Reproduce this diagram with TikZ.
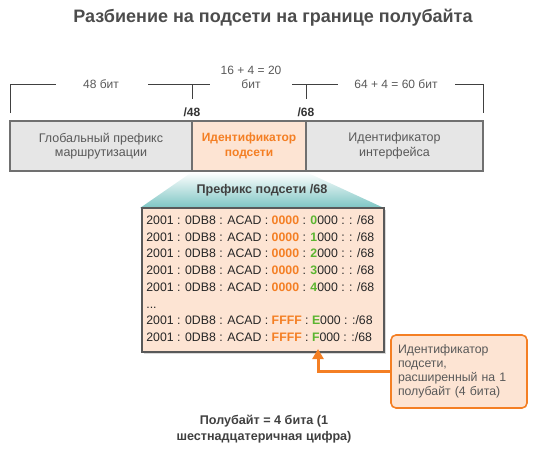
\documentclass[tikz,border=0pt]{standalone}
\usepackage{fontspec}
\setmainfont{Liberation Sans}
\usepackage{xcolor}
\usetikzlibrary{positioning, arrows.meta, shadows}

\definecolor{txtgray}{HTML}{595959}
\definecolor{boxgray}{HTML}{E6E6E6}
\definecolor{linegray}{HTML}{707070}
\definecolor{peach}{HTML}{FDE4D3}
\definecolor{orng}{HTML}{F47F24}
\definecolor{grn}{HTML}{5BB530}
\definecolor{teal}{HTML}{7CC5C3}

\newcommand{\og}[1]{\textcolor{orng}{\bfseries #1}}
\newcommand{\gn}[1]{\textcolor{grn}{\bfseries #1}}

\begin{document}
\begin{tikzpicture}[x=1pt, y=-1pt, thick,
    lbl/.style={text=txtgray, font=\fontsize{12}{14}\selectfont, align=center},
    part/.style={draw=linegray, line width=1.6pt, fill=boxgray, minimum height=50pt,
                 text=txtgray, font=\fontsize{12.5}{14.5}\selectfont, align=center, inner sep=0pt},
    row/.style={anchor=base west, inner sep=0pt, text=black!85, font=\fontsize{12.3}{14}\selectfont},
    brk/.style={draw=black!75, line width=0.8pt}]
       \useasboundingbox (0,0) rectangle (547,453);

       % title
       \node[text=black!70, font=\bfseries\fontsize{18}{21}\selectfont] (title) at (273,18)
            {Разбиение на подсети на границе полубайта};

       % bracket above the address
       \draw[brk] (10,113) -- (10,84) -- (56,84);
       \draw[brk] (148,84) -- (210,84);
       \draw[brk] (192,84) -- (192,99);
       \draw[brk] (292,84) -- (338,84);
       \draw[brk] (306,84) -- (306,99);
       \draw[brk] (455,84) -- (483,84) -- (483,113);
       \node[lbl] (b48) at (101,84) {48 бит};
       \node[lbl] (b20) at (251,77) {16 + 4 = 20\\бит};
       \node[lbl] (b60) at (396,84) {64 + 4 = 60 бит};
       \node[font=\bfseries\fontsize{12}{14}\selectfont, text=black!80] (p48) at (192,112) {/48};
       \node[font=\bfseries\fontsize{12}{14}\selectfont, text=black!80] (p68) at (306,112) {/68};

       % three parts of the address
       \node[part, minimum width=182pt] (glob) at (101,146) {Глобальный префикс\\маршрутизации};
       \node[part, minimum width=114pt, fill=peach, text=orng, font=\bfseries\fontsize{12}{14.5}\selectfont]
            (subnet) at (249,146) {Идентификатор\\подсети};
       \node[part, minimum width=177pt] (iface) at (394.5,146) {Идентификатор\\интерфейса};

       % zoom funnel
       \shade[top color=white, bottom color=teal] (192,172) -- (306,172) -- (384,208) -- (140,208) -- cycle;
       \node[font=\bfseries\fontsize{12.6}{14}\selectfont, text=black!75] (pref) at (262,190)
            {Префикс подсети /68};

       % list of subnets
       \node[draw=black!65, line width=1.6pt, fill=peach, minimum width=242pt, minimum height=144pt,
             drop shadow={shadow xshift=1.5pt, shadow yshift=-1.5pt, opacity=0.3}]
            (addr) at (263,280) {};
       \foreach \i in {0,...,4}
           \node[row] (r\i) at (146,{224.5+16.7*\i}) {2001 : 0DB8 : ACAD : \og{0000} : \gn{\i}000 : : /68};
       \node[row] (dots) at (146,308) {...};
       \node[row] (rE) at (146,324.5) {2001 : 0DB8 : ACAD : \og{FFFF} : \gn{E}000 : :/68};
       \node[row] (rF) at (146,341.5) {2001 : 0DB8 : ACAD : \og{FFFF} : \gn{F}000 : :/68};

       % callout
       \node[draw=orng, line width=1.6pt, fill=peach, rounded corners=5pt, minimum width=136pt,
             minimum height=73pt, text width=122pt, align=left, text=txtgray,
             font=\fontsize{12.3}{13.8}\selectfont] (call) at (459,371.5)
            {Идентификатор\\подсети,\\расширенный на 1\\полубайт (4 бита)};
       \coordinate (tip) at (318,349);
       \draw[orng, line width=3pt, -{Triangle[length=10pt, width=11pt]}] (call.west) -| (tip);

       % note below
       \node[font=\bfseries\fontsize{12.6}{16}\selectfont, text=black!75, align=center] (note) at (264,429)
            {Полубайт = 4 бита (1\\шестнадцатеричная цифра)};
    \end{tikzpicture}
\end{document}
